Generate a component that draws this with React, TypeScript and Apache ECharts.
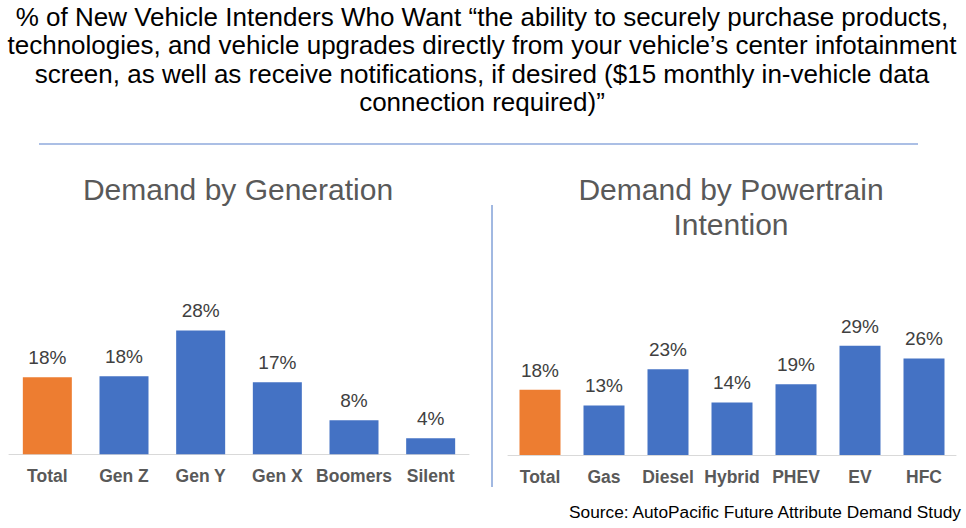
import React, { useEffect, useRef } from "react";
import * as echarts from "echarts";

const genCategories = ["Total", "Gen Z", "Gen Y", "Gen X", "Boomers", "Silent"];
const genValues = [17.7, 17.9, 28.4, 16.5, 7.8, 3.7];
const genLabels = ["18%", "18%", "28%", "17%", "8%", "4%"];

const ptCategories = ["Total", "Gas", "Diesel", "Hybrid", "PHEV", "EV", "HFC"];
const ptValues = [17.5, 13.3, 23.0, 14.1, 19.0, 29.3, 25.9];
const ptLabels = ["18%", "13%", "23%", "14%", "19%", "29%", "26%"];

const titleLines = [
  "% of New Vehicle Intenders Who Want \u201cthe ability to securely purchase products,",
  "technologies, and vehicle upgrades directly from your vehicle\u2019s center infotainment",
  "screen, as well as receive notifications, if desired ($15 monthly in-vehicle data",
  "connection required)\u201d",
];
const leftTitle = "Demand by Generation";
const rightTitle = "Demand by Powertrain\nIntention";
const sourceText = "Source: AutoPacific Future Attribute Demand Study";

const FONT = "'Liberation Sans', Arial, Helvetica, sans-serif";
const ORANGE = "#ED7D31";
const BLUE = "#4472C4";

export default function App() {
  const ref = useRef<HTMLDivElement>(null);
  useEffect(() => {
    if (!ref.current) return;
    const chart = echarts.init(ref.current, undefined, { renderer: "svg" });
    const mkData = (vals: number[]) =>
      vals.map((v, i) => ({ value: v, itemStyle: { color: i === 0 ? ORANGE : BLUE } }));
    const xAxisCommon = {
      type: "category" as const,
      axisTick: { show: false },
      axisLine: { lineStyle: { color: "#D9D9D9", width: 1 } },
      axisLabel: {
        color: "#595959",
        fontSize: 17.5,
        fontWeight: "bold" as const,
        fontFamily: FONT,
        margin: 13,
        interval: 0,
      },
    };
    const yAxisCommon = {
      type: "value" as const,
      min: 0,
      max: 30,
      show: false,
      splitLine: { show: false },
    };
    const valueLabel = (labels: string[]) => ({
      show: true,
      position: "top" as const,
      distance: 10,
      fontSize: 19,
      color: "#404040",
      fontFamily: FONT,
      formatter: (p: any) => labels[p.dataIndex],
    });
    chart.setOption({
      animation: false,
      backgroundColor: "#FFFFFF",
      textStyle: { fontFamily: FONT },
      grid: [
        { left: 9, width: 460, top: 323.5, height: 130.8 },
        { left: 508, width: 448, top: 343.1, height: 111.9 },
      ],
      xAxis: [
        { ...xAxisCommon, gridIndex: 0, data: genCategories },
        { ...xAxisCommon, gridIndex: 1, data: ptCategories },
      ],
      yAxis: [
        { ...yAxisCommon, gridIndex: 0 },
        { ...yAxisCommon, gridIndex: 1 },
      ],
      series: [
        {
          type: "bar",
          xAxisIndex: 0,
          yAxisIndex: 0,
          barWidth: 49,
          data: mkData(genValues),
          label: valueLabel(genLabels),
        },
        {
          type: "bar",
          xAxisIndex: 1,
          yAxisIndex: 1,
          barWidth: 41,
          data: mkData(ptValues),
          label: valueLabel(ptLabels),
        },
      ],
      graphic: [
        {
          type: "text",
          x: 482,
          y: 2.7,
          style: {
            text: titleLines.join("\n"),
            fontSize: 26,
            lineHeight: 28.5,
            fontFamily: FONT,
            fill: "#000000",
            align: "center",
            verticalAlign: "top",
          },
        },
        {
          type: "line",
          shape: { x1: 39, y1: 144, x2: 918, y2: 144 },
          style: { stroke: "#8FAADC", lineWidth: 1.5 },
        },
        {
          type: "line",
          shape: { x1: 492, y1: 205, x2: 492, y2: 487 },
          style: { stroke: BLUE, lineWidth: 1 },
        },
        {
          type: "text",
          x: 238,
          y: 172,
          style: {
            text: leftTitle,
            fontSize: 30,
            lineHeight: 35,
            fontFamily: FONT,
            fill: "#595959",
            align: "center",
            verticalAlign: "top",
          },
        },
        {
          type: "text",
          x: 731,
          y: 172,
          style: {
            text: rightTitle,
            fontSize: 30,
            lineHeight: 35,
            fontFamily: FONT,
            fill: "#595959",
            align: "center",
            verticalAlign: "top",
          },
        },
        {
          type: "text",
          x: 961,
          y: 512,
          style: {
            text: sourceText,
            fontSize: 17.3,
            fontFamily: FONT,
            fill: "#000000",
            align: "right",
            verticalAlign: "middle",
          },
        },
      ],
    });
    return () => chart.dispose();
  }, []);
  return (
    <div
      ref={ref}
      style={{ position: "fixed", left: 0, top: 0, width: 966, height: 528, background: "#fff" }}
    />
  );
}
